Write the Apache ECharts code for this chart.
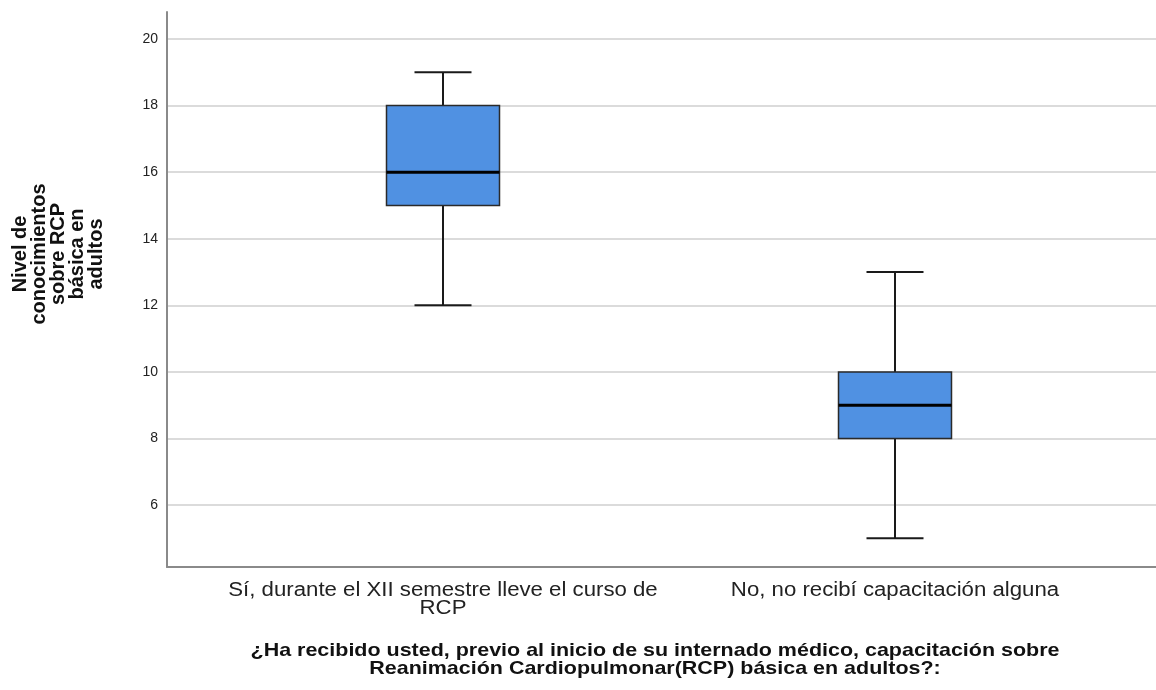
<!DOCTYPE html>
<html>
<head>
<meta charset="utf-8">
<script src="https://cdn.jsdelivr.net/npm/echarts@6/dist/echarts.min.js"></script>
<style>
  html, body { margin: 0; padding: 0; background: #fff; }
  #chart { width: 1156px; height: 690px; }
</style>
</head>
<body>
<div id="chart"></div>
<script>
// Groups on the category axis
const categories = [
  'Sí, durante el XII semestre lleve el curso de\nRCP',
  'No, no recibí capacitación alguna'
];
// Five-number summaries per group
const whiskerLow  = [12, 5];
const quartileLow = [15, 8];
const medians     = [16, 9];
const quartileHigh = [18, 10];
const whiskerHigh = [19, 13];
// Value-axis range and tick labels
const yMin = 4.14;
const yMax = 20.81;
const yTicks = [6, 8, 10, 12, 14, 16, 18, 20];

const yTitle = 'Nivel de\nconocimientos\nsobre RCP\nbásica en\nadultos';
const xTitle = '¿Ha recibido usted, previo al inicio de su internado médico, capacitación sobre\nReanimación Cardiopulmonar(RCP) básica en adultos?:';

const boxData = categories.map((c, i) => [i, whiskerLow[i], quartileLow[i], medians[i], quartileHigh[i], whiskerHigh[i]]);

const FONT = '"Liberation Sans", Arial, sans-serif';
const BOX_W = 113;
const CAP_W = 57;

function renderBox(params, api) {
  const x = api.value(0);
  const pLo = api.coord([x, api.value(1)]);
  const pQ1 = api.coord([x, api.value(2)]);
  const pMd = api.coord([x, api.value(3)]);
  const pQ3 = api.coord([x, api.value(4)]);
  const pHi = api.coord([x, api.value(5)]);
  const cx = Math.round(pMd[0]);
  const line = { stroke: '#1a1a1a', lineWidth: 2 };
  return {
    type: 'group',
    children: [
      { type: 'line', shape: { x1: cx, y1: pHi[1], x2: cx, y2: pQ3[1] }, style: line },
      { type: 'line', shape: { x1: cx, y1: pQ1[1], x2: cx, y2: pLo[1] }, style: line },
      { type: 'line', shape: { x1: cx - CAP_W / 2, y1: pHi[1], x2: cx + CAP_W / 2, y2: pHi[1] }, style: line },
      { type: 'line', shape: { x1: cx - CAP_W / 2, y1: pLo[1], x2: cx + CAP_W / 2, y2: pLo[1] }, style: line },
      { type: 'rect', shape: { x: cx - BOX_W / 2, y: pQ3[1], width: BOX_W, height: pQ1[1] - pQ3[1] },
        style: { fill: '#5091e2', stroke: '#2a2a2a', lineWidth: 1.5 } },
      { type: 'line', shape: { x1: cx - BOX_W / 2, y1: pMd[1], x2: cx + BOX_W / 2, y2: pMd[1] },
        style: { stroke: '#000', lineWidth: 3 } }
    ]
  };
}

const chart = echarts.init(document.getElementById('chart'), null, { renderer: 'canvas' });

chart.setOption({
  animation: false,
  backgroundColor: '#ffffff',
  grid: [
    { left: 167, right: 0, top: 12, bottom: 123 },
    { left: 217, width: 904, top: 12, bottom: 123 }
  ],
  xAxis: [
    {
      gridIndex: 0, type: 'value', min: 0, max: 1,
      axisLine: { show: true, lineStyle: { color: '#8a8a8a', width: 2 } },
      axisTick: { show: false }, axisLabel: { show: false }, splitLine: { show: false }
    },
    {
      gridIndex: 1, type: 'category', data: categories,
      axisLine: { show: false }, axisTick: { show: false }, splitLine: { show: false },
      axisLabel: { show: false }
    }
  ],
  yAxis: [
    {
      gridIndex: 0, type: 'value', min: yMin, max: yMax, splitNumber: 8,
      axisLine: { show: true, lineStyle: { color: '#8a8a8a', width: 2 } },
      axisTick: { show: false },
      axisLabel: {
        margin: 9, color: '#222', fontFamily: FONT, fontSize: 14,
        showMinLabel: false, showMaxLabel: false,
        formatter: v => (yTicks.indexOf(Math.round(v * 100) / 100) >= 0 ? String(v) : '')
      },
      splitLine: { show: true, showMinLine: false, showMaxLine: false, lineStyle: { color: '#cfcfcf', width: 1.5 } }
    },
    {
      gridIndex: 1, type: 'value', min: yMin, max: yMax,
      axisLine: { show: false }, axisTick: { show: false }, axisLabel: { show: false }, splitLine: { show: false }
    }
  ],
  series: [
    {
      type: 'custom', xAxisIndex: 1, yAxisIndex: 1,
      data: boxData,
      encode: { x: 0, y: [1, 2, 3, 4, 5] },
      renderItem: renderBox
    }
  ]
});

// Category labels, placed under each category position of the axis (wide lettering)
const axisBottom = chart.convertToPixel({ yAxisIndex: 1 }, yMin);
const categoryLabels = categories.map((c, i) => ({
  type: 'text',
  x: chart.convertToPixel({ xAxisIndex: 1 }, i),
  y: axisBottom + 14,
  scaleX: 1.11,
  style: {
    text: c, fontFamily: FONT, fontSize: 20, lineHeight: 18,
    align: 'center', verticalAlign: 'top', fill: '#222'
  }
}));

chart.setOption({
  graphic: [
    {
      type: 'text', x: 58, y: 254, rotation: Math.PI / 2,
      style: {
        text: yTitle, fontFamily: FONT, fontWeight: 'bold', fontSize: 20, lineHeight: 19,
        align: 'center', verticalAlign: 'middle', fill: '#111'
      }
    },
    {
      type: 'text', x: 655, y: 660, scaleX: 1.13,
      style: {
        text: xTitle, fontFamily: FONT, fontWeight: 'bold', fontSize: 19, lineHeight: 18,
        align: 'center', verticalAlign: 'middle', fill: '#111'
      }
    }
  ].concat(categoryLabels)
});
</script>
</body>
</html>
